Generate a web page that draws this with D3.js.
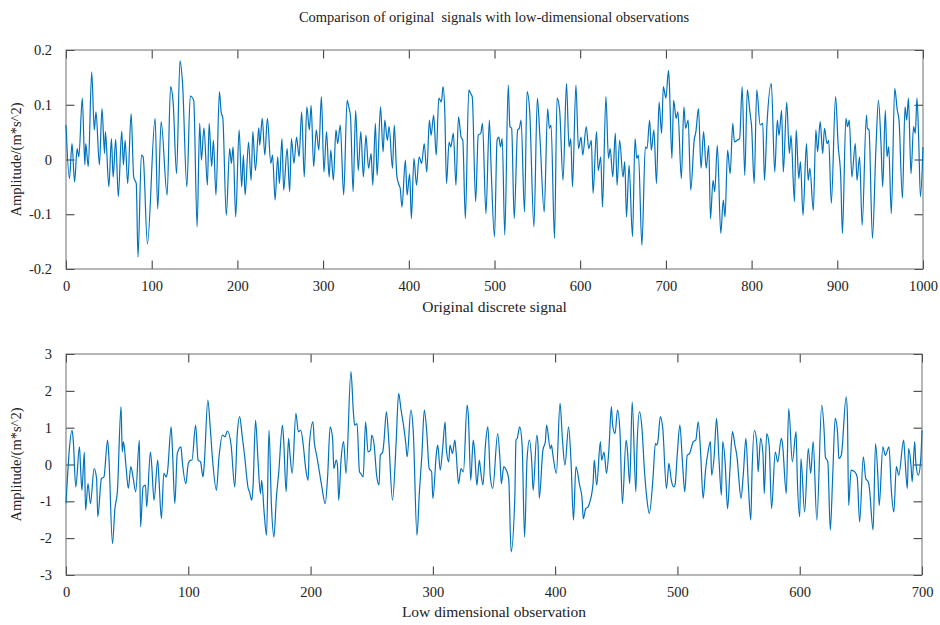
<!DOCTYPE html>
<html>
<head>
<meta charset="utf-8">
<script src="https://cdn.jsdelivr.net/npm/d3@7/dist/d3.min.js"></script>
<style>
  body { margin: 0; background: #fff; }
  svg { display: block; font-family: "Liberation Serif", "DejaVu Serif", serif; }
  .tick text { font-size: 14.5px; fill: #222; }
  .tick line { stroke: #333; }
</style>
</head>
<body>
<div id="chart"></div>
<script>
// title + axis labels
var titleText = "Comparison of original  signals with low-dimensional observations";
var yLabelText = "Amplitude/(m*s^2)";
var topXLabel = "Original discrete signal";
var lowXLabel = "Low dimensional observation";

// tick values
var topXTicks = [0, 100, 200, 300, 400, 500, 600, 700, 800, 900, 1000];
var topYTicks = [-0.2, -0.1, 0, 0.1, 0.2];
var lowXTicks = [0, 100, 200, 300, 400, 500, 600, 700];
var lowYTicks = [-3, -2, -1, 0, 1, 2, 3];

// original signal (sample index / amplitude at turning points)
var topIdx = [0,4,7,10,13,15,19,22,23,26,30,33,35,39,42,45,46,50,53,55,58,61,65,67,69,72,76,79,82,84,88,90,95,104,107,111,118,122,125,129,133,136,141,145,149,153,156,158,161,165,167,170,172,175,179,181,183,187,191,193,195,198,202,205,207,209,213,216,218,221,225,226,229,232,235,239,241,244,247,249,252,254,258,261,263,266,269,272,275,278,281,284,286,289,292,295,298,301,304,307,309,312,315,317,320,324,328,330,332,335,338,341,344,347,350,353,356,358,361,363,367,370,372,375,377,381,383,386,388,390,392,396,398,401,403,406,409,412,415,418,421,424,426,429,432,435,438,440,442,444,447,449,452,455,458,461,463,466,470,472,474,478,481,484,486,490,494,496,500,503,505,507,509,512,516,518,520,523,527,529,531,535,538,541,546,550,553,558,562,564,566,570,573,576,580,584,587,589,591,595,598,601,603,607,610,613,615,619,621,624,626,630,633,635,638,641,643,646,650,652,654,657,661,664,666,668,672,676,678,681,683,686,689,692,695,697,700,703,704,707,709,712,714,718,721,723,726,729,733,735,738,741,744,747,750,752,755,757,760,764,767,769,772,775,778,780,783,786,789,792,795,798,800,803,806,810,813,815,818,823,827,830,832,835,837,841,844,846,850,852,855,857,860,864,866,868,872,875,877,880,883,885,888,890,893,898,901,904,906,910,912,914,917,921,923,926,929,934,935,937,941,945,948,951,953,956,958,960,963,967,970,972,976,979,981,983,986,989,991,993,995,997,1000];
var topVal = [0.063,-0.035,0.029,-0.041,0.020,0.005,0.112,-0.010,0.029,-0.013,0.160,0.054,0.087,-0.010,0.093,0.011,0.051,-0.050,0.038,-0.032,0.037,-0.068,0.052,-0.010,0.035,-0.044,0.084,-0.032,-0.044,-0.178,0.008,0.005,-0.154,0.075,-0.090,0.069,-0.065,0.133,0.105,-0.026,0.180,0.139,-0.050,0.116,0.108,-0.123,0.066,-0.001,0.058,-0.047,0.066,-0.013,0.035,-0.065,0.124,0.087,0.075,-0.102,0.020,-0.007,0.023,-0.105,0.054,-0.050,0.008,-0.065,0.032,-0.038,0.051,-0.020,0.058,0.026,0.075,0.008,0.075,-0.007,0.008,-0.074,0.005,-0.044,0.038,-0.056,0.020,-0.059,0.038,-0.007,0.041,0.005,0.087,-0.032,0.096,0.054,0.099,-0.013,0.054,0.017,0.115,-0.023,0.051,-0.032,0.017,-0.038,0.054,0.029,0.063,-0.065,0.108,0.096,0.078,-0.059,0.090,-0.020,0.051,-0.032,0.044,-0.016,0.011,-0.047,0.066,-0.029,0.096,0.014,0.072,0.035,0.060,-0.016,0.063,-0.029,-0.044,-0.053,-0.087,-0.001,-0.065,-0.026,-0.108,0.002,-0.047,0.005,-0.007,0.029,-0.023,0.072,0.044,0.081,0.008,0.112,0.105,0.133,0.087,-0.044,0.032,0.023,0.048,-0.047,0.078,0.041,0.035,-0.108,0.127,0.121,0.115,-0.077,0.044,0.048,0.066,-0.099,0.072,-0.013,-0.141,0.035,0.041,0.023,0.038,-0.138,0.136,0.060,0.057,-0.108,0.054,0.057,0.072,-0.096,0.124,0.090,-0.123,0.112,0.041,-0.096,0.093,0.057,0.063,-0.144,0.112,0.090,-0.038,0.139,0.023,0.038,-0.050,0.136,0.020,0.041,0.008,0.060,0.020,0.035,-0.062,0.051,-0.020,0.005,-0.087,0.115,0.002,0.020,-0.032,0.048,-0.047,0.035,-0.032,-0.004,-0.105,-0.010,-0.141,0.038,0.002,0.008,-0.157,0.023,0.020,0.072,0.017,0.054,-0.044,0.105,0.048,0.133,0.112,0.163,0.139,0.002,0.108,0.075,0.087,-0.035,0.096,0.057,0.072,-0.056,0.035,0.051,0.093,-0.016,0.051,-0.016,0.026,-0.108,-0.038,-0.059,0.026,-0.135,-0.074,-0.105,0.017,-0.026,0.066,0.032,0.035,0.038,0.133,-0.029,0.127,0.087,0.060,-0.044,0.127,0.063,0.066,-0.038,0.066,0.139,-0.023,0.072,0.044,0.090,-0.023,0.105,0.011,0.044,-0.077,0.054,-0.035,-0.004,-0.102,0.029,-0.038,-0.016,-0.093,0.054,0.014,0.069,0.011,0.057,0.029,0.035,-0.080,0.115,0.026,-0.032,-0.135,0.075,0.060,0.072,-0.032,0.029,-0.038,0.005,-0.120,0.081,0.057,0.054,-0.144,0.017,0.108,0.029,-0.050,0.090,0.005,0.023,-0.099,0.130,0.090,0.072,-0.071,0.096,0.072,0.112,-0.026,0.060,0.048,0.112,0.035,-0.068,0.023];

// low dimensional observation
var lowIdx = [0,5,6,8,11,12,13,15,16,18,20,23,25,26,29,31,34,35,38,40,42,45,46,47,49,51,53,55,57,60,61,63,65,66,69,70,72,75,76,78,80,82,83,86,87,89,91,94,95,98,100,102,103,106,108,110,112,113,116,118,120,123,125,128,130,132,135,138,140,142,144,146,149,150,152,153,155,157,159,160,162,164,166,168,170,172,174,177,178,180,182,183,185,188,190,192,194,196,198,199,202,203,205,209,212,214,216,218,219,221,222,223,225,227,229,233,235,236,238,240,241,243,245,247,249,250,252,254,256,257,259,260,262,264,267,270,272,274,276,278,279,282,284,287,289,291,293,295,297,299,300,303,304,306,308,310,311,313,314,316,318,319,321,323,325,328,329,331,333,334,336,338,339,341,343,345,347,349,353,355,356,358,360,362,364,367,368,369,371,373,375,377,379,381,382,385,386,387,390,392,393,396,397,398,401,404,406,408,411,413,415,417,420,422,423,425,427,428,431,432,434,437,438,440,442,444,446,447,449,451,453,455,458,459,461,463,466,467,469,471,473,475,477,480,482,483,484,486,488,491,492,493,495,497,498,500,502,504,506,508,510,512,513,515,517,519,521,523,525,527,528,530,532,534,536,537,539,541,543,545,547,549,550,552,554,556,558,560,561,563,565,566,568,570,571,573,575,577,580,582,585,586,589,591,594,597,598,600,601,604,607,609,611,614,618,620,621,623,625,627,629,631,632,634,638,639,640,642,645,647,649,652,654,656,657,660,662,664,665,668,670,673,675,677,679,681,685,686,688,689,691,692,694,695,697,699,700];
var lowVal = [-1.05,0.93,0.62,-0.61,0.48,-0.15,-0.70,0.34,-1.24,-0.52,-1.06,-0.11,-0.38,-1.42,-0.38,-0.34,0.66,0.25,-2.15,-1.20,-0.74,1.57,0.34,0.62,-0.02,-0.65,-0.06,-0.38,-0.74,0.66,-1.69,-0.61,-0.56,-1.15,0.34,0.03,-0.97,0.12,-0.38,-1.47,-0.24,-0.34,-0.20,1.02,0.43,-1.06,0.30,0.48,0.12,-0.52,0.03,0.12,0.12,1.07,0.12,0.07,-0.34,-0.02,1.75,0.98,0.07,-0.70,0.16,0.80,0.75,0.91,0.53,-0.61,0.80,1.30,0.80,0.25,-0.65,-0.74,-0.97,-0.56,1.20,0.12,-0.79,-0.43,-1.29,-1.92,0.93,-1.11,-1.97,-0.92,-0.20,1.07,0.66,-0.74,0.71,0.34,-0.24,1.39,0.89,0.93,0.53,-0.11,-0.43,0.53,1.16,0.62,0.25,-0.56,-1.06,-0.29,1.02,0.71,-0.11,0.12,-0.02,-0.97,0.16,0.62,-0.24,2.52,1.43,1.07,1.11,-0.20,-0.24,-0.34,1.16,0.34,0.39,0.80,0.53,-0.29,-0.56,0.25,0.34,0.62,1.43,0.62,-0.97,0.62,1.93,1.48,1.07,0.53,0.21,1.48,0.89,-1.92,-0.74,0.25,1.48,0.89,-0.11,-0.20,-0.92,0.34,0.53,-0.15,0.43,1.16,0.43,0.07,0.53,0.30,0.66,0.34,-0.52,-0.11,-0.20,1.61,1.34,-0.43,0.66,0.43,-0.56,0.12,-0.15,-0.56,0.53,1.02,-0.34,-0.65,0.84,0.07,-0.52,-0.06,-0.15,-0.38,-2.37,-0.92,0.66,0.71,1.02,0.53,-1.97,0.12,0.66,-0.02,-0.70,0.80,0.53,-0.92,0.39,0.62,1.07,0.43,0.53,0.30,-0.24,1.66,0.66,-0.02,1.02,0.07,-1.51,-0.06,-0.56,-0.92,-1.47,-1.20,-1.15,-1.06,-0.52,0.12,-0.56,0.62,0.12,0.34,-0.24,0.43,1.57,1.07,0.84,1.48,0.89,-1.06,0.66,0.43,-0.52,1.70,-0.74,0.53,1.43,0.98,-0.15,-0.92,-1.33,-0.38,0.57,0.53,0.62,1.30,0.98,-0.65,-0.34,0.03,-0.43,-0.61,-0.56,0.34,1.07,0.12,-0.74,0.25,0.30,0.53,0.62,0.66,1.16,0.30,-0.92,-0.15,0.34,0.62,-0.29,0.21,1.25,0.12,-0.83,0.62,0.07,-1.20,-0.11,0.89,0.53,0.12,-0.29,-0.92,-0.20,0.71,-0.56,-1.51,-0.20,0.93,0.53,-0.20,0.71,0.25,-0.79,0.84,0.53,-1.20,0.34,0.07,0.71,0.53,-0.79,1.52,0.07,0.89,-0.34,-1.42,0.16,-1.29,0.43,-0.24,0.62,-1.51,1.61,0.89,0.21,0.07,-1.78,-0.29,1.25,0.84,0.16,0.25,1.84,1.34,-1.11,-0.15,-0.20,-0.34,-1.56,0.21,-0.38,-0.47,-0.65,-1.78,0.57,-0.38,-1.11,0.48,0.25,0.48,-0.74,-1.29,-0.06,-0.29,0.66,0.21,-0.65,0.43,-0.02,-0.47,0.62,0.03,-0.29,0.16,0.93];

var W = 940, H = 625;
var lineColor = "#0072BD";

var svg = d3.select("#chart").append("svg")
    .attr("width", W)
    .attr("height", H);

svg.append("text")
    .attr("x", 494)
    .attr("y", 22)
    .attr("text-anchor", "middle")
    .attr("font-size", 14.5)
    .attr("fill", "#222")
    .style("white-space", "pre")
    .text(titleText);

// plain hyphen minus like MATLAB, not the unicode one d3 uses
function plain(d) { return String(d); }

// one panel = box + inward ticks on all four sides + signal line
function drawPanel(cfg) {
    var x = d3.scaleLinear().domain(cfg.xDomain).range([cfg.left, cfg.right]);
    var y = d3.scaleLinear().domain(cfg.yDomain).range([cfg.bottom, cfg.top]);
    var tk = 8.5;
    var g = svg.append("g");

    g.append("g")
        .attr("transform", "translate(0," + cfg.bottom + ")")
        .call(d3.axisBottom(x).tickValues(cfg.xTicks).tickSizeInner(-tk).tickSizeOuter(0).tickPadding(12).tickFormat(plain));
    g.append("g")
        .attr("transform", "translate(0," + cfg.top + ")")
        .call(d3.axisTop(x).tickValues(cfg.xTicks).tickSizeInner(-tk).tickSizeOuter(0).tickFormat(""));
    g.append("g")
        .attr("transform", "translate(" + cfg.left + ",0)")
        .call(d3.axisLeft(y).tickValues(cfg.yTicks).tickSizeInner(-tk).tickSizeOuter(0).tickPadding(14).tickFormat(plain));
    g.append("g")
        .attr("transform", "translate(" + cfg.right + ",0)")
        .call(d3.axisRight(y).tickValues(cfg.yTicks).tickSizeInner(-tk).tickSizeOuter(0).tickFormat(""));

    g.selectAll(".domain").remove();
    g.selectAll(".tick text").attr("font-family", "Liberation Serif");

    g.append("rect")
        .attr("x", cfg.left)
        .attr("y", cfg.top)
        .attr("width", cfg.right - cfg.left)
        .attr("height", cfg.bottom - cfg.top)
        .attr("fill", "none")
        .attr("stroke", "#6e6e6e")
        .attr("stroke-width", 1);

    var pts = cfg.idx.map(function(d, i) { return [d, cfg.val[i]]; });
    var line = d3.line()
        .x(function(d) { return x(d[0]); })
        .y(function(d) { return y(d[1]); })
        .curve(d3.curveMonotoneX);

    g.append("path")
        .datum(pts)
        .attr("fill", "none")
        .attr("stroke", lineColor)
        .attr("stroke-width", 1.2)
        .attr("stroke-linejoin", "round")
        .attr("d", line);

    g.append("text")
        .attr("x", (cfg.left + cfg.right) / 2)
        .attr("y", cfg.xLabelY)
        .attr("text-anchor", "middle")
        .attr("font-size", 15.5)
        .attr("fill", "#222")
        .text(cfg.xLabel);

    g.append("text")
        .attr("transform", "translate(" + cfg.yLabelX + "," + ((cfg.top + cfg.bottom) / 2) + ") rotate(-90)")
        .attr("text-anchor", "middle")
        .attr("font-size", 14.5)
        .attr("fill", "#222")
        .text(yLabelText);
}

drawPanel({
    left: 66, right: 923, top: 50, bottom: 269,
    xDomain: [0, 1000], yDomain: [-0.2, 0.2],
    xTicks: topXTicks, yTicks: topYTicks,
    idx: topIdx, val: topVal,
    xLabel: topXLabel, xLabelY: 312, yLabelX: 21
});

drawPanel({
    left: 66, right: 922, top: 354, bottom: 575,
    xDomain: [0, 700], yDomain: [-3, 3],
    xTicks: lowXTicks, yTicks: lowYTicks,
    idx: lowIdx, val: lowVal,
    xLabel: lowXLabel, xLabelY: 617, yLabelX: 21
});
</script>
</body>
</html>
